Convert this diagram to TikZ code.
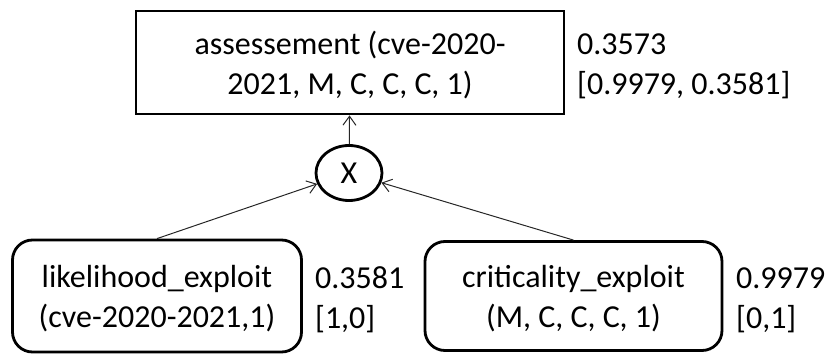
\documentclass[tikz,border=0pt]{standalone}
\usepackage{fontspec}
\setmainfont{Carlito}
\usepackage{tikz}
\usetikzlibrary{arrows.meta,shapes.geometric}

\begin{document}
\begin{tikzpicture}[x=1pt,y=-1pt,
    font=\fontsize{32}{40}\selectfont,
    factor/.style={draw,line width=2.8pt,align=center,inner sep=0pt,text depth=0pt},
    val/.style={anchor=west,align=left,inner sep=0pt,text depth=0pt},
    link/.style={line width=1pt,black!85,-{Straight Barb[length=9pt,width=13pt]}}]
  \useasboundingbox (0,0) rectangle (831,356);
  \node[factor,minimum width=428,minimum height=103] (assess) at (350,62.5)
    {assessement (cve-2020-\\2021, M, C, C, C, 1)};
  \node[val] (assessval) at (577,64.5) {0.3573\\{}[0.9979, 0.3581]};
  \node[draw,ellipse,line width=2.8pt,minimum width=66,minimum height=55,inner sep=0pt] (mult) at (349,173) {X};
  \node[factor,rounded corners=20pt,minimum width=289,minimum height=112] (lik) at (157,296)
    {likelihood\_exploit\\(cve-2020-2021,1)};
  \node[val] (likval) at (315,298) {0.3581\\{}[1,0]};
  \node[factor,rounded corners=20pt,minimum width=297,minimum height=109] (crit) at (573.5,296)
    {criticality\_exploit\\(M, C, C, C, 1)};
  \node[val] (critval) at (736,298) {0.9979\\{}[0,1]};
  % arrows into the product node and up to the top factor
  \draw[link] (lik.north) -- (mult);
  \draw[link] (crit.north) -- (mult);
  \draw[link] (mult) -- (assess);
\end{tikzpicture}
\end{document}
